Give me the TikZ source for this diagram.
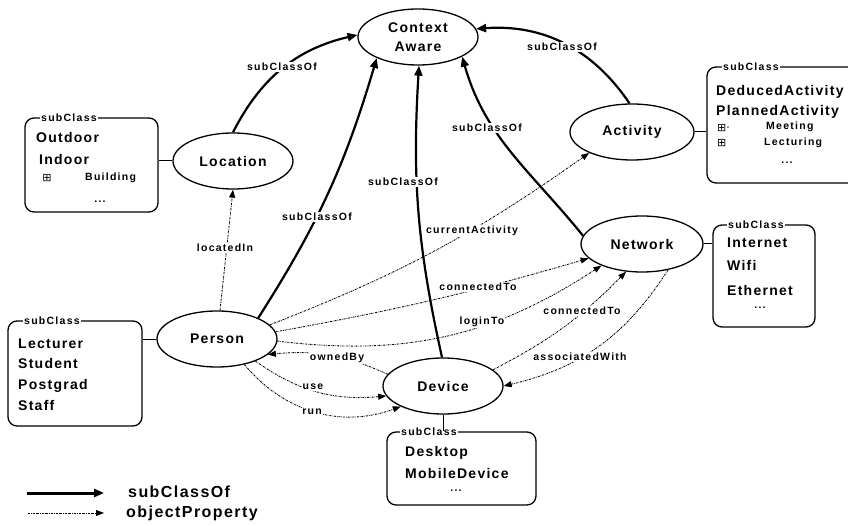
\documentclass[tikz,border=0pt]{standalone}
\usepackage{fontspec}
\setmainfont{Liberation Sans}
\newfontfamily\bigf{Liberation Sans}[LetterSpace=9]
\newfontfamily\smf{Liberation Sans}[LetterSpace=12]
\newfontfamily\djv{DejaVu Sans}
\usetikzlibrary{shapes.geometric,arrows.meta}
\begin{document}
\begin{tikzpicture}[x=1pt,y=-1pt,
  ell/.style={draw, ellipse, line width=1.3pt, minimum width=120pt, minimum height=56pt, inner sep=0pt, font=\bigf\bfseries\fontsize{14}{19}\selectfont},
  sbox/.style={draw, line width=1.3pt, rounded corners=9pt, inner sep=0pt},
  item/.style={anchor=west, inner sep=0pt, font=\bigf\bfseries\fontsize{14}{16}\selectfont},
  sitem/.style={anchor=west, inner sep=0pt, font=\smf\bfseries\fontsize{10.5}{12}\selectfont},
  dots/.style={inner sep=0pt, font=\smf\bfseries\fontsize{10.5}{12}\selectfont},
  plusbox/.style={inner sep=0pt, font=\djv\fontsize{11}{12}\selectfont},
  sublbl/.style={anchor=west, fill=white, inner sep=1pt, font=\smf\bfseries\fontsize{10.5}{12}\selectfont},
  elbl/.style={fill=white, inner sep=1pt, font=\smf\bfseries\fontsize{10.5}{12}\selectfont},
  legf/.style={anchor=west, inner sep=0pt, font=\bigf\bfseries\fontsize{16}{18}\selectfont},
  subarrow/.style={line width=2.2pt, -{Triangle[length=10pt,width=8pt]}},
  objarrow/.style={line width=0.85pt, dash pattern=on 2pt off 1pt on 0.6pt off 1pt, -{Triangle[length=8pt,width=6pt]}},
  link/.style={line width=1pt}]
\useasboundingbox (0,0) rectangle (848,526);

% ---- class ellipses
\node[ell, align=center] (ca) at (418,37) {Context\\Aware};
\node[ell] (loc) at (233,161) {Location};
\node[ell] (per) at (217,339) {Person};
\node[ell] (dev) at (443,386) {Device};
\node[ell, minimum width=124pt] (act) at (632,132) {Activity};
\node[ell, minimum width=122pt] (net) at (642,244) {Network};

% ---- subclass boxes
\node[sbox, minimum width=133pt, minimum height=94pt] (locbox) at (91.5,165) {};
\node[sbox, minimum width=134pt, minimum height=105pt] (perbox) at (75,373.5) {};
\node[sbox, minimum width=153pt, minimum height=116pt] (actbox) at (783.5,125) {};
\node[sbox, minimum width=102pt, minimum height=102pt] (netbox) at (764,276) {};
\node[sbox, minimum width=149pt, minimum height=73pt] (devbox) at (461.5,468.5) {};

\node[sublbl] (locsub) at (40,118) {subClass};
\node[sublbl] (persub) at (23,321) {subClass};
\node[sublbl] (actsub) at (722,67) {subClass};
\node[sublbl] (netsub) at (727,225) {subClass};
\node[sublbl] (devsub) at (400,432) {subClass};

% box contents
\node[item] (loc1) at (36,137) {Outdoor};
\node[item] (loc2) at (39,159) {Indoor};
\node[plusbox] (loc3p) at (47,178) {⊞};
\node[sitem] (loc3) at (85,178) {Building};
\node[dots] (loc4) at (100,202) {...};

\node[item] (per1) at (18,344) {Lecturer};
\node[item] (per2) at (18,363) {Student};
\node[item] (per3) at (18,386) {Postgrad};
\node[item] (per4) at (18,405) {Staff};

\node[item] (act1) at (716,92) {DeducedActivity};
\node[item] (act2) at (716,112) {PlannedActivity};
\node[plusbox, anchor=west] (act3p) at (717,128) {⊞·};
\node[sitem] (act3) at (766,127) {Meeting};
\node[plusbox, anchor=west] (act4p) at (717,143) {⊞};
\node[sitem] (act4) at (764,143) {Lecturing};
\node[dots] (act5) at (787,163) {...};

\node[item] (net1) at (727,243) {Internet};
\node[item] (net2) at (727,265) {Wifi};
\node[item] (net3) at (727,290) {Ethernet};
\node[dots] (net4) at (760,308) {...};

\node[item] (dev1) at (405,453) {Desktop};
\node[item] (dev2) at (405,473) {MobileDevice};
\node[dots] (dev3) at (456,491) {...};

% ---- links class - box
\draw[link] (loc.west) -- (loc.west -| locbox.east);
\draw[link] (per.west) -- (per.west -| perbox.east);
\draw[link] (act.east) -- (act.east -| actbox.west);
\draw[link] (net.east) -- (net.east -| netbox.west);
\draw[link] (dev.south) -- (dev.south |- devbox.north);

% ---- subClassOf
\draw[subarrow] (loc.north) to[bend left=25] (ca.178);
\draw[subarrow] (per.27) to[bend right=8] (ca.207);
\draw[subarrow] (dev.92) to[bend left=8] (ca.272);
\draw[subarrow] (net.172) to[out=129, in=-74] (ca.336);
\draw[subarrow] (act.95) to[bend right=30] (ca.8);

% ---- object properties
\draw[objarrow] (per.84) -- (loc.south);
\draw[objarrow] (per.15) to[bend right=7] (act.206);
\draw[objarrow] (per.7) to[bend right=3] (net.195);
\draw[objarrow] (per.358) to[bend right=20] (net.208);
\draw[objarrow] (dev.168) to[bend right=15] (per.343);
\draw[objarrow] (per.330) to[bend right=20] (dev.190);
\draw[objarrow] (per.317) to[bend right=35] (dev.206);
\draw[objarrow] (dev.18) to[bend right=9] (net.240);
\draw[objarrow] (net.315) to[bend left=22] (dev.0);

% ---- edge labels
\node[elbl] (e1) at (282,67) {subClassOf};
\node[elbl] (e2) at (317,217) {subClassOf};
\node[elbl] (e3) at (403,182) {subClassOf};
\node[elbl] (e4) at (487,128) {subClassOf};
\node[elbl] (e5) at (562,47) {subClassOf};
\node[elbl] (e6) at (225,248) {locatedIn};
\node[elbl] (e7) at (472,231) {currentActivity};
\node[elbl] (e8) at (478,287) {connectedTo};
\node[elbl] (e9) at (482,322) {loginTo};
\node[elbl] (e10) at (582,311) {connectedTo};
\node[elbl] (e11) at (580,357) {associatedWith};
\node[elbl] (e12) at (337,358) {ownedBy};
\node[elbl] (e13) at (313,387) {use};
\node[elbl] (e14) at (312,412) {run};

% ---- legend
\coordinate (la1) at (27,493);
\coordinate (lb1) at (104,493);
\draw[subarrow, line width=3pt] (la1) -- (lb1);
\node[legf] (leg1) at (128,492) {subClassOf};
\coordinate (la2) at (28,513);
\coordinate (lb2) at (104,513);
\draw[objarrow] (la2) -- (lb2);
\node[legf] (leg2) at (126,513) {objectProperty};
\end{tikzpicture}
\end{document}
